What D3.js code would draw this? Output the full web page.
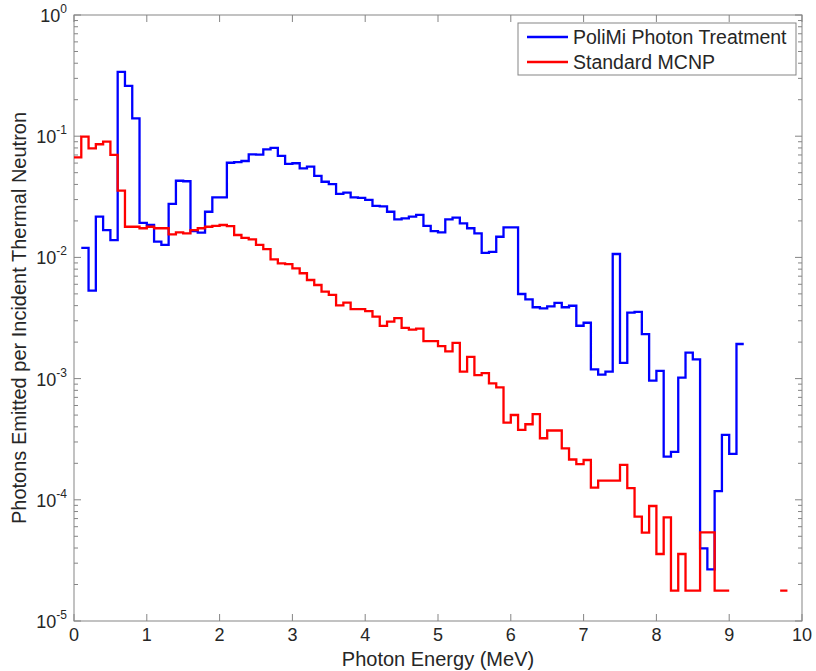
<!DOCTYPE html>
<html>
<head>
<meta charset="utf-8">
<style>
	body { margin: 0; background: #fff; }
	svg text { font-family: "Liberation Sans", Arial, sans-serif; fill: #262626; }
	.frame { fill: none; stroke: #858585; stroke-width: 1px; }
	.tick { stroke: #858585; stroke-width: 1px; }
	.series { fill: none; stroke-width: 2.3px; stroke-linejoin: miter; }
</style>
</head>
<body>
<script src="https://cdn.jsdelivr.net/npm/d3@7"></script>
<script>

// bin start energies (MeV), bin width 0.1
var energy = [0.0,0.1,0.2,0.3,0.4,0.5,0.6,0.7,0.8,0.9,
	1.0,1.1,1.2,1.3,1.4,1.5,1.6,1.7,1.8,1.9,
	2.0,2.1,2.2,2.3,2.4,2.5,2.6,2.7,2.8,2.9,
	3.0,3.1,3.2,3.3,3.4,3.5,3.6,3.7,3.8,3.9,
	4.0,4.1,4.2,4.3,4.4,4.5,4.6,4.7,4.8,4.9,
	5.0,5.1,5.2,5.3,5.4,5.5,5.6,5.7,5.8,5.9,
	6.0,6.1,6.2,6.3,6.4,6.5,6.6,6.7,6.8,6.9,
	7.0,7.1,7.2,7.3,7.4,7.5,7.6,7.7,7.8,7.9,
	8.0,8.1,8.2,8.3,8.4,8.5,8.6,8.7,8.8,8.9,
	9.0,9.1,9.2,9.3,9.4,9.5,9.6,9.7,9.8,9.9];
var binWidth = 0.1;

// PoliMi photon treatment
var polimi = [null,0.0120,0.00531,0.0217,0.0168,0.0139,0.340,0.260,0.1405,0.0193,
	0.0185,0.0135,0.0127,0.0276,0.0429,0.0425,0.0165,0.0160,0.0238,0.0313,
	0.0313,0.0604,0.0610,0.0624,0.0709,0.0705,0.0780,0.0800,0.0687,0.0590,
	0.0598,0.0543,0.0560,0.0470,0.0421,0.0403,0.0334,0.0342,0.0313,0.0310,
	0.0298,0.0266,0.0264,0.0238,0.0206,0.0210,0.0217,0.0224,0.0182,0.0165,
	0.0161,0.0206,0.0213,0.0191,0.0174,0.0158,0.0109,0.0111,0.0148,0.0177,
	0.0177,0.00499,0.00451,0.00388,0.00380,0.00394,0.00421,0.00388,0.00399,0.00273,
	0.00289,0.00119,0.00108,0.00114,0.01067,0.00135,0.00350,0.00355,0.00233,0.000961,
	0.00116,0.000227,0.000249,0.00102,0.00164,0.00144,0.0000398,0.0000267,0.000118,0.000343,
	0.000239,0.00193,null,null,null,null,null,null,null,null];

// Standard MCNP
var mcnp = [0.0670,0.0991,0.0794,0.0858,0.0901,0.0700,0.0355,0.0179,0.0179,0.0174,
	0.0179,0.0174,0.0174,0.0155,0.0161,0.0158,0.0168,0.0174,0.0179,0.0182,
	0.0185,0.0181,0.0153,0.0145,0.0141,0.0127,0.0117,0.00964,0.00893,0.00880,
	0.00813,0.00740,0.00651,0.00592,0.00521,0.00490,0.00402,0.00423,0.00375,0.00375,
	0.00361,0.00325,0.00272,0.00295,0.00315,0.00262,0.00254,0.00258,0.00204,0.00204,
	0.00185,0.00168,0.00197,0.00114,0.00151,0.00107,0.00111,0.000914,0.000848,0.000433,
	0.000501,0.000377,0.000420,0.000510,0.000322,0.000373,0.000373,0.000266,0.000215,0.000197,
	0.000213,0.000126,0.000144,0.000144,0.000144,0.000194,0.000125,0.0000726,0.0000535,0.0000889,
	0.0000357,0.0000717,0.0000178,0.0000357,0.0000178,0.0000178,0.0000539,0.0000539,0.0000178,0.0000178,
	null,null,null,null,null,null,null,0.0000178,null,null];

var xTicks = [0,1,2,3,4,5,6,7,8,9,10];
var yExponents = [0,-1,-2,-3,-4,-5];
var seriesNames = ["PoliMi Photon Treatment", "Standard MCNP"];
var seriesColors = ["#0000ff", "#ff0000"];

var W = 816, H = 671;
var pLeft = 74, pRight = 802, pTop = 15, pBottom = 621;

var svg = d3.select("body").append("svg")
	.attr("width", W)
	.attr("height", H);

var x = d3.scaleLinear().domain([0, 10]).range([pLeft, pRight]);
var y = d3.scaleLog().domain([1e-5, 1]).range([pBottom, pTop]);

// ticks, inward on all four sides
var g = svg.append("g");
xTicks.forEach(function(t) {
	g.append("line").attr("class", "tick")
		.attr("x1", x(t)).attr("x2", x(t)).attr("y1", pBottom).attr("y2", pBottom - 7);
	g.append("line").attr("class", "tick")
		.attr("x1", x(t)).attr("x2", x(t)).attr("y1", pTop).attr("y2", pTop + 7);
	g.append("text")
		.attr("x", x(t)).attr("y", 641)
		.attr("text-anchor", "middle")
		.style("font-size", "18px")
		.text(t);
});

yExponents.forEach(function(e) {
	var v = Math.pow(10, e);
	g.append("line").attr("class", "tick")
		.attr("x1", pLeft).attr("x2", pLeft + 7).attr("y1", y(v)).attr("y2", y(v));
	g.append("line").attr("class", "tick")
		.attr("x1", pRight).attr("x2", pRight - 7).attr("y1", y(v)).attr("y2", y(v));
	if (e > -5) {
		for (var m = 2; m <= 9; m++) {
			var mv = m * Math.pow(10, e - 1);
			g.append("line").attr("class", "tick")
				.attr("x1", pLeft).attr("x2", pLeft + 4).attr("y1", y(mv)).attr("y2", y(mv));
			g.append("line").attr("class", "tick")
				.attr("x1", pRight).attr("x2", pRight - 4).attr("y1", y(mv)).attr("y2", y(mv));
		}
	}
	var lab = g.append("text")
		.attr("x", 67).attr("y", y(v) + 7)
		.attr("text-anchor", "end")
		.style("font-size", "18px");
	lab.append("tspan").text("10");
	lab.append("tspan")
		.attr("dy", -9)
		.style("font-size", "12px")
		.text(e);
});

svg.append("rect").attr("class", "frame")
	.attr("x", pLeft).attr("y", pTop)
	.attr("width", pRight - pLeft).attr("height", pBottom - pTop);

// step lines, broken where bins are empty
function stepPoints(vals) {
	var pts = [];
	vals.forEach(function(v, i) {
		if (v == null) { pts.push({e: energy[i], v: null}); return; }
		pts.push({e: energy[i], v: v});
		pts.push({e: energy[i] + binWidth, v: v});
	});
	return pts;
}

var stepLine = d3.line()
	.defined(function(d) { return d.v != null; })
	.x(function(d) { return x(d.e); })
	.y(function(d) { return y(d.v); });

[polimi, mcnp].forEach(function(vals, i) {
	svg.append("path")
		.attr("class", "series")
		.attr("stroke", seriesColors[i])
		.attr("d", stepLine(stepPoints(vals)));
});

// axis titles
svg.append("text")
	.attr("x", (pLeft + pRight) / 2).attr("y", 666)
	.attr("text-anchor", "middle")
	.style("font-size", "20px")
	.text("Photon Energy (MeV)");

svg.append("text")
	.attr("transform", "translate(26," + ((pTop + pBottom) / 2) + ") rotate(-90)")
	.attr("text-anchor", "middle")
	.style("font-size", "20px")
	.text("Photons Emitted per Incident Thermal Neutron");

// legend
var leg = svg.append("g");
leg.append("rect")
	.attr("x", 518).attr("y", 23).attr("width", 278).attr("height", 52)
	.attr("fill", "#fff").attr("stroke", "#858585");
seriesNames.forEach(function(name, i) {
	var ly = 37 + i * 25;
	leg.append("line")
		.attr("x1", 527).attr("x2", 568).attr("y1", ly).attr("y2", ly)
		.attr("stroke", seriesColors[i]).attr("stroke-width", 2.3);
	leg.append("text")
		.attr("x", 573).attr("y", ly + 7)
		.style("font-size", "19.5px")
		.text(name);
});

</script>
</body>
</html>
